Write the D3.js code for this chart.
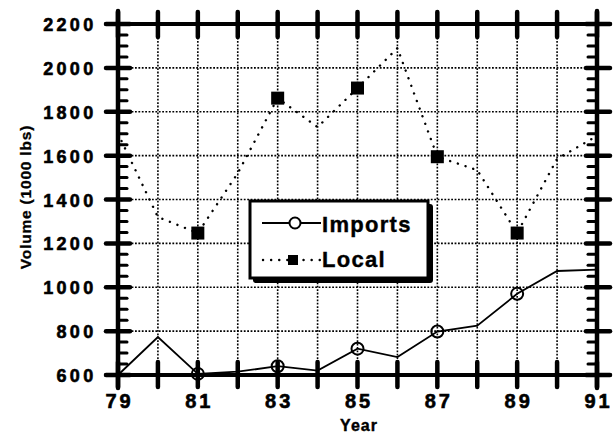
<!DOCTYPE html>
<html><head><meta charset="utf-8">
<script src="https://cdn.jsdelivr.net/npm/d3@7/dist/d3.min.js"></script>
<style>
html,body{margin:0;padding:0;background:#fff;}
svg{display:block;font-family:"Liberation Sans",Arial,sans-serif;font-weight:bold;}
</style></head>
<body>
<svg id="chart" width="616" height="436"></svg>
<script>
const years   = [79, 80, 81, 82, 83, 84, 85, 86, 87, 88, 89, 90, 91];
const imports = [600, 773, 605, 615, 640, 620, 720, 682, 798, 825, 970, 1074, 1080];
const local   = [1700, 1320, 1247, 1520, 1862, 1730, 1908, 2090, 1595, 1534, 1247, 1585, 1690];
const markerYears = [81, 83, 85, 87, 89];
const xTickLabels = ["79", "81", "83", "85", "87", "89", "91"];
const yTickValues = [600, 800, 1000, 1200, 1400, 1600, 1800, 2000, 2200];
const seriesNames = ["Imports", "Local"];

const svg = d3.select("#chart");
const x = d3.scaleLinear().domain([79, 91]).range([118, 597]);
const y = d3.scaleLinear().domain([600, 2200]).range([375, 24]);
const x0 = x(79), x1 = x(91), y0 = y(600), y1 = y(2200);

// grid
const g = svg.append("g");
g.selectAll(".vg").data(d3.range(80, 91)).join("line")
  .attr("x1", d => x(d)).attr("x2", d => x(d)).attr("y1", y1).attr("y2", y0)
  .attr("stroke", "#000").attr("stroke-width", 1.6).attr("stroke-dasharray", "1.8,1.6");
g.selectAll(".hg").data(d3.range(800, 2200, 200)).join("line")
  .attr("x1", x0).attr("x2", x1).attr("y1", d => y(d)).attr("y2", d => y(d))
  .attr("stroke", "#000").attr("stroke-width", 1.6).attr("stroke-dasharray", "1.8,1.6");

// lines
const lineGen = d3.line().x((d, i) => x(years[i])).y(d => y(d));
svg.append("path").datum(local).attr("d", lineGen).attr("fill", "none")
  .attr("stroke", "#000").attr("stroke-width", 2.4).attr("stroke-dasharray", "0.1,8")
  .attr("stroke-linecap", "round");
svg.append("path").datum(imports).attr("d", lineGen).attr("fill", "none")
  .attr("stroke", "#000").attr("stroke-width", 1.8);

// markers
const idx = markerYears.map(m => years.indexOf(m));
svg.selectAll(".sq").data(idx).join("rect")
  .attr("x", i => x(years[i]) - 6.5).attr("y", i => y(local[i]) - 6.5)
  .attr("width", 13).attr("height", 13).attr("fill", "#000");
svg.selectAll(".ci").data(idx).join("circle")
  .attr("cx", i => x(years[i])).attr("cy", i => y(imports[i])).attr("r", 6)
  .attr("fill", "none").attr("stroke", "#000").attr("stroke-width", 2);

// axes frame
const ax = svg.append("g").attr("stroke", "#000").attr("stroke-linecap", "round");
ax.append("line").attr("x1", x0 - 12).attr("x2", x1 + 13).attr("y1", y1).attr("y2", y1).attr("stroke-width", 4);
ax.append("line").attr("x1", x0 - 12).attr("x2", x1 + 13).attr("y1", y0).attr("y2", y0).attr("stroke-width", 4);
ax.append("line").attr("x1", x0).attr("x2", x0).attr("y1", y1 - 13).attr("y2", y0 + 13).attr("stroke-width", 4.5);
ax.append("line").attr("x1", x1).attr("x2", x1).attr("y1", y1 - 13).attr("y2", y0 + 13).attr("stroke-width", 4.5);
// year ticks
ax.selectAll(".tt").data(years).join("line")
  .attr("x1", d => x(d)).attr("x2", d => x(d)).attr("y1", y1 - 12).attr("y2", y1 + 13).attr("stroke-width", 4.5);
ax.selectAll(".bt").data(years).join("line")
  .attr("x1", d => x(d)).attr("x2", d => x(d)).attr("y1", y0 - 13).attr("y2", y0 + 12).attr("stroke-width", 4.5);
// value major ticks
ax.selectAll(".lt").data(yTickValues).join("line")
  .attr("x1", x0 - 12).attr("x2", x0 + 12).attr("y1", d => y(d)).attr("y2", d => y(d)).attr("stroke-width", 4.5);
ax.selectAll(".rt").data(yTickValues).join("line")
  .attr("x1", x1 - 11).attr("x2", x1 + 13).attr("y1", d => y(d)).attr("y2", d => y(d)).attr("stroke-width", 4.5);
// minor ticks
const minor = d3.range(650, 2200, 50).filter(v => v % 200 !== 0);
ax.selectAll(".lm").data(minor).join("line")
  .attr("x1", x0).attr("x2", x0 + 9).attr("y1", d => y(d)).attr("y2", d => y(d)).attr("stroke-width", 3);
ax.selectAll(".rm").data(minor).join("line")
  .attr("x1", x1 - 9).attr("x2", x1).attr("y1", d => y(d)).attr("y2", d => y(d)).attr("stroke-width", 3);

// tick labels
svg.selectAll(".yl").data(yTickValues).join("text")
  .attr("x", 93 + 3.5).attr("y", d => y(d) + 7).attr("text-anchor", "end")
  .attr("font-size", 18).attr("letter-spacing", 3.3)
  .attr("stroke", "#000").attr("stroke-width", 0.6).text(d => d);
svg.selectAll(".xl").data(xTickLabels).join("text")
  .attr("x", d => x(+d) + 1.5).attr("y", 408).attr("text-anchor", "middle")
  .attr("font-size", 20).attr("letter-spacing", 3)
  .attr("stroke", "#000").attr("stroke-width", 0.6).text(d => d);

// axis titles
svg.append("text").attr("x", 359).attr("y", 431).attr("text-anchor", "middle")
  .attr("font-size", 16).attr("letter-spacing", 1)
  .attr("stroke", "#000").attr("stroke-width", 0.4).text("Year");
svg.append("text").attr("transform", "translate(31,197) rotate(-90)").attr("text-anchor", "middle")
  .attr("font-size", 15.5).attr("letter-spacing", 0.8)
  .attr("stroke", "#000").attr("stroke-width", 0.3).text("Volume (1000 lbs)");

// legend
const lg = svg.append("g");
lg.append("rect").attr("x", 253).attr("y", 204).attr("width", 180).attr("height", 79).attr("rx", 3).attr("fill", "#000");
lg.append("rect").attr("x", 250).attr("y", 201).attr("width", 178).attr("height", 77).attr("fill", "#fff")
  .attr("stroke", "#000").attr("stroke-width", 3);
lg.append("line").attr("x1", 262).attr("x2", 321).attr("y1", 223).attr("y2", 223).attr("stroke", "#000").attr("stroke-width", 1.8);
lg.append("circle").attr("cx", 295).attr("cy", 223).attr("r", 5.5).attr("fill", "#fff").attr("stroke", "#000").attr("stroke-width", 2);
lg.append("line").attr("x1", 263).attr("x2", 320).attr("y1", 260).attr("y2", 260).attr("stroke", "#000")
  .attr("stroke-width", 2.4).attr("stroke-dasharray", "0.1,8").attr("stroke-linecap", "round");
lg.append("rect").attr("x", 288).attr("y", 255).attr("width", 10).attr("height", 10).attr("fill", "#000");
lg.selectAll(".lgt").data(seriesNames).join("text")
  .attr("x", 322).attr("y", (d, i) => 232 + i * 35)
  .attr("font-size", 22).attr("letter-spacing", 1.3)
  .attr("stroke", "#000").attr("stroke-width", 0.4).text(d => d);
</script>
</body></html>
